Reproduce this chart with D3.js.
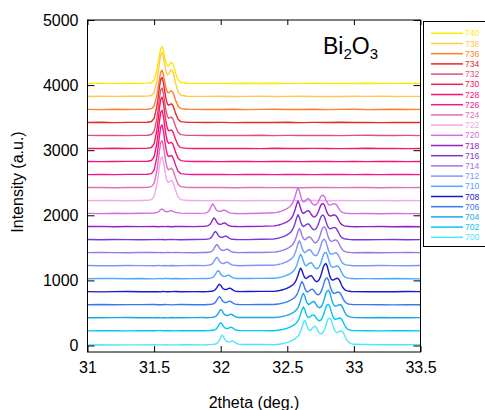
<!DOCTYPE html>
<html><head><meta charset="utf-8">
<script src="https://cdn.jsdelivr.net/npm/d3@7"></script>
<style>body{margin:0;background:#fff}svg{display:block;font-family:"Liberation Sans",Arial,sans-serif}</style>
</head><body><svg id="c" width="485" height="410"></svg>
<script>
// ---- data ----
const temps = [740,738,736,734,732,730,728,726,724,722,720,718,716,714,712,710,708,706,704,702,700];
const offsets = [4000,3800,3600,3400,3200,3000,2800,2600,2400,2200,2000,1800,1600,1400,1200,1000,800,600,400,200,0];
const colors = ["#ffe800","#ffc94f","#ff7f2a","#e8282a","#e0507a","#f0205a","#ff1070","#f01890","#e070b8","#f0a8e8","#d070e0","#9020c8","#7838d8","#9878e8","#7898ff","#50a8ff","#1818d0","#3878f0","#18a8e8","#00c8f0","#50e8f8"];
const xTicks = [31,31.5,32,32.5,33,33.5];
const yTicks = [0,1000,2000,3000,4000,5000];

// 2theta sampling grid for Bi2O3-phase scans (722-740)
const xA = [31.00,31.10,31.20,31.30,31.40,31.45,31.48,31.50,31.52,31.53,31.54,31.55,31.56,31.57,31.58,31.59,31.60,31.61,31.62,31.63,31.64,31.65,31.66,31.68,31.70,31.75,31.80,31.90,32.00,32.10,32.20,32.30,32.40,32.50,32.60,32.70,32.80,32.90,33.00,33.10,33.20,33.30,33.40,33.50];
// 2theta sampling grid for the other scans (700-720)
const xB = [31.00,31.10,31.20,31.30,31.40,31.50,31.53,31.55,31.56,31.58,31.60,31.63,31.66,31.70,31.80,
31.88,31.89,31.90,31.91,31.92,31.93,31.94,31.95,31.96,31.97,31.98,31.99,32.00,32.01,32.02,32.03,32.04,32.05,32.06,32.07,32.08,32.09,32.10,32.11,32.12,32.13,32.14,
32.20,32.30,
32.40,32.41,32.42,32.43,32.44,32.45,32.46,32.47,32.48,32.49,32.50,32.51,32.52,32.53,32.54,32.55,32.56,32.57,32.58,32.59,32.60,32.61,32.62,32.63,32.64,32.65,32.66,32.67,32.68,32.69,32.70,32.71,32.72,32.73,32.74,32.75,32.76,32.77,32.78,32.79,32.80,32.81,32.82,32.83,32.84,32.85,32.86,32.87,32.88,32.89,32.90,32.91,32.92,32.93,32.94,32.95,32.96,32.97,32.98,32.99,33.00,
33.10,33.20,33.30,33.40,33.50];

const i740 = [25,30,22,28,27,30,37,77,217,334,463,566,590,526,424,338,295,301,331,349,326,266,194,83,40,28,27,26,27,24,29,25,28,23,26,30,24,27,25,29,24,26,28,25];
const i738 = [24,28,26,30,28,30,40,87,253,392,545,668,697,622,503,403,358,371,412,436,408,332,240,98,44,29,27,26,28,25,27,30,24,26,29,25,27,24,28,26,30,25,27,26];
const i736 = [27,23,28,25,27,30,38,80,230,356,493,604,628,558,445,345,289,282,302,315,293,240,176,77,39,28,27,26,25,28,24,27,30,25,26,28,23,27,29,24,26,28,25,27];
const i734 = [26,29,24,27,28,30,40,88,261,405,563,690,717,635,502,381,308,290,303,313,290,237,173,76,39,28,27,26,27,24,28,26,25,29,24,27,26,30,25,27,24,28,26,25];
const i732 = [28,25,27,24,28,30,41,92,274,427,594,728,757,669,527,397,316,291,301,309,286,234,171,76,39,28,27,26,26,28,25,29,24,27,26,25,28,24,27,29,25,26,27,24];
const i730 = [25,27,29,26,28,31,42,97,295,460,641,785,816,721,565,422,330,298,304,310,287,234,172,76,39,28,27,26,28,25,27,24,29,26,25,28,27,24,26,29,25,27,24,26];
const i728 = [27,24,26,28,28,31,42,97,295,460,641,785,812,721,566,424,334,307,313,320,296,242,177,78,40,28,27,26,25,28,26,24,27,29,25,26,28,25,27,24,28,26,25,27];
const i726 = [24,27,25,29,28,31,41,95,285,443,617,757,787,696,548,412,327,302,311,319,296,241,177,78,40,28,27,26,27,25,28,26,24,28,27,25,29,26,24,27,25,28,26,24];
const i724 = [26,28,24,27,28,31,41,91,271,421,586,718,748,662,523,397,320,300,313,323,300,245,179,78,40,28,27,26,26,24,27,29,25,28,24,26,27,25,29,26,24,27,25,28];
const i722 = [25,27,28,24,28,30,40,87,254,394,548,671,698,620,493,380,315,304,324,337,313,256,187,81,40,28,27,26,28,26,24,27,25,29,26,27,24,28,25,26,29,24,27,26];

const i720 = [30,26,32,28,31,35,48,88,98,62,55,72,45,33,29,
33,38,46,62,95,140,175,150,104,76,64,60,62,70,78,80,72,56,43,37,33,30,29,28,27,26,26,
28,31,
38,41,45,50,55,61,68,76,85,95,106,120,136,157,189,236,300,372,420,380,300,235,208,212,235,252,255,235,200,172,160,158,168,195,240,285,305,307,285,235,190,165,158,163,172,178,176,160,128,92,65,48,40,35,32,30,28,27,26,25,25,
27,24,28,26,25];
const i718 = [27,30,25,29,26,28,25,27,30,26,28,24,27,29,26,
31,34,38,46,62,94,134,160,140,98,72,62,61,67,79,82,71,54,42,36,32,30,28,28,27,26,26,
29,30,
38,40,45,48,54,59,67,73,83,91,103,116,132,154,186,234,296,368,420,380,302,250,228,238,258,268,270,248,212,188,174,180,200,240,292,350,376,380,352,290,236,202,190,193,200,205,202,184,148,108,76,56,44,38,34,31,29,28,26,26,25,
26,28,25,27,24];
const i716 = [28,25,29,27,24,27,29,26,28,25,27,30,26,24,28,
30,31,34,37,46,61,92,130,150,134,95,72,62,61,67,78,80,70,53,42,36,31,30,28,28,27,26,
27,31,
36,41,43,49,52,60,65,74,81,92,101,116,129,152,182,228,290,360,410,372,300,248,228,236,255,266,268,248,214,190,178,184,206,248,305,368,398,402,372,304,245,208,194,198,206,212,210,192,154,112,78,57,45,38,35,31,30,27,27,25,25,
25,27,29,24,26];
const i714 = [26,29,27,24,28,30,26,28,25,27,29,26,28,27,25,
29,28,32,33,38,44,60,88,126,150,134,95,71,62,61,65,76,79,70,54,41,36,31,30,29,27,27,
30,29,
35,36,41,43,49,52,60,65,74,81,92,101,116,129,151,179,224,282,352,398,362,293,244,224,234,254,266,268,248,214,189,177,184,208,252,316,384,416,422,388,314,252,213,199,204,214,220,218,198,158,114,80,58,45,38,35,32,30,27,27,25,
28,25,26,29,27];
const i712 = [29,26,24,28,27,25,29,27,24,28,26,29,25,27,30,
27,30,31,34,36,46,61,92,130,154,136,96,72,61,60,67,78,80,69,53,42,35,32,30,28,28,26,
28,32,
33,38,40,45,47,54,58,67,72,83,90,103,114,131,150,182,228,290,362,410,372,300,248,228,238,256,268,272,250,216,191,179,186,212,258,324,392,426,432,396,320,256,216,201,206,216,224,221,200,160,116,80,57,45,39,34,32,30,28,26,26,
26,29,27,25,28];
const i710 = [25,28,30,26,29,24,27,29,26,28,30,25,28,26,27,
28,27,30,31,34,37,46,60,91,129,150,134,95,72,62,61,67,77,79,70,53,42,36,31,30,28,28,
30,31,
33,33,38,40,45,47,54,58,67,72,83,90,103,114,131,151,182,228,288,358,402,366,296,246,226,236,256,268,270,250,216,190,179,186,211,256,322,390,424,430,394,318,254,214,200,204,214,220,218,198,158,114,80,57,44,38,35,31,29,28,26,
27,25,28,26,24];
const i708 = [28,24,27,29,25,28,26,24,29,27,25,28,30,26,28,
26,28,27,30,31,34,36,44,58,85,120,140,126,92,70,61,60,66,78,80,70,54,43,36,31,30,28,
29,32,
31,35,36,41,43,49,52,60,65,74,81,92,101,116,129,148,176,220,278,345,388,356,290,244,228,240,258,270,272,252,218,192,180,188,214,262,330,402,445,460,420,335,262,218,204,210,222,232,230,208,165,118,82,59,46,39,35,33,30,28,27,
25,28,26,29,27];
const i706 = [26,29,25,28,27,30,25,28,26,29,27,24,28,29,26,
27,26,29,29,32,33,38,45,62,92,130,150,134,95,71,61,60,67,78,80,69,53,42,35,32,30,28,
28,30,
29,33,34,38,40,45,47,54,58,67,72,83,90,103,114,128,148,176,218,275,342,382,350,285,240,222,232,250,262,264,245,212,188,178,186,212,258,322,392,432,438,400,322,256,215,200,204,214,220,217,196,156,112,78,57,44,38,34,31,29,28,
28,26,24,27,25];
const i704 = [27,25,28,30,26,27,29,25,28,26,24,29,27,25,28,
29,26,27,29,28,32,33,38,44,61,88,126,154,137,98,73,62,61,65,76,81,71,55,41,36,31,30,
31,29,
30,31,33,35,38,40,45,48,54,58,67,72,83,90,103,114,132,150,182,228,290,360,402,368,298,248,228,238,258,272,275,252,218,192,180,188,215,262,330,402,440,448,408,328,260,218,203,208,218,228,226,205,162,116,80,58,45,40,35,32,30,
26,29,27,25,28];
const i702 = [25,28,26,24,29,26,28,30,25,27,29,26,24,28,27,
27,25,28,28,30,31,34,37,46,60,92,130,150,133,95,72,61,60,67,78,80,69,53,42,35,32,29,
29,28,
26,30,31,35,37,41,43,49,53,60,65,74,81,92,101,116,131,148,178,222,282,350,392,360,292,246,228,238,257,266,268,246,214,190,180,188,214,260,325,392,428,432,396,322,256,216,202,206,214,222,218,198,158,114,80,57,44,38,34,31,29,
27,25,29,26,24];
const i700 = [8,12,7,10,9,11,8,10,9,12,8,10,9,11,12,
10,12,11,13,14,15,17,19,23,32,48,80,125,160,140,98,70,58,55,58,66,68,58,43,30,24,20,
15,17,
12,14,16,18,20,23,27,31,36,42,48,55,63,72,82,93,106,122,142,172,215,275,345,385,352,288,242,228,245,270,290,295,270,225,192,178,185,208,250,312,380,415,420,388,318,255,215,200,205,215,222,218,198,158,110,75,52,38,28,22,18,
15,12,14,11,13];

const intensities = [i740,i738,i736,i734,i732,i730,i728,i726,i724,i722,i720,i718,i716,i714,i712,i710,i708,i706,i704,i702,i700];
const grids = temps.map(t => t >= 722 ? xA : xB);

// ---- chart ----
const svg = d3.select("#c");
const L = 87.5, R = 420.5, T = 20, B = 352;
const x = d3.scaleLinear().domain([31, 33.5]).range([L, R]);
const y = d3.scaleLinear().domain([-100, 5000]).range([B, T]);

svg.append("defs").append("clipPath").attr("id","clip")
  .append("rect").attr("x",L).attr("y",T).attr("width",R-L).attr("height",B-T);

const line = d3.line().defined(d => d[0] != null && d[1] != null && !isNaN(d[1]))
  .x(d => x(d[0])).y(d => y(d[1]));

const plot = svg.append("g").attr("clip-path","url(#clip)");
temps.forEach((t, s) => {
  const g = grids[s], v = intensities[s];
  const pts = g.map((xx, i) => [xx, v[i] == null ? null : v[i] + offsets[s]]);
  plot.append("path").datum(pts).attr("d", line)
    .attr("fill","none").attr("stroke", colors[s]).attr("stroke-width",1.4)
    .attr("stroke-linejoin","round");
});

// axes
const ax = svg.append("g").attr("transform",`translate(0,${B})`)
  .call(d3.axisBottom(x).tickValues(xTicks).tickSize(-6).tickPadding(9.5).tickFormat(d => String(d)));
const ay = svg.append("g").attr("transform",`translate(${L},0)`)
  .call(d3.axisLeft(y).tickValues(yTicks).tickSize(-7).tickPadding(9).tickFormat(d3.format("d")));
const at = svg.append("g").attr("transform",`translate(0,${T})`)
  .call(d3.axisTop(x).tickValues(xTicks).tickSize(-5).tickFormat(""));
const ar = svg.append("g").attr("transform",`translate(${R},0)`)
  .call(d3.axisRight(y).tickValues(yTicks).tickSize(-7).tickFormat(""));
[ax,ay,at,ar].forEach(a => {
  a.select(".domain").remove();
  a.selectAll("text").attr("font-size",16).attr("fill","#000")
    .attr("font-family",'"Liberation Sans",Arial,sans-serif');
  a.selectAll("line").attr("stroke","#000");
});
svg.append("rect").attr("x",L).attr("y",T).attr("width",R-L).attr("height",B-T)
  .attr("fill","none").attr("stroke","#000").attr("stroke-width",1);

// titles
svg.append("text").attr("x",254).attr("y",402).attr("dy","0.35em")
  .attr("text-anchor","middle").attr("font-size",16).text("2theta (deg.)");
svg.append("text").attr("transform","translate(17,182) rotate(-90)").attr("dy","0.35em")
  .attr("text-anchor","middle").attr("font-size",16).text("Intensity (a.u.)");

// Bi2O3 label
const lab = svg.append("text").attr("x",323).attr("y",54).attr("font-size",23);
lab.append("tspan").text("Bi");
lab.append("tspan").attr("font-size",15).attr("dy",5).text("2");
lab.append("tspan").attr("dy",-5).text("O");
lab.append("tspan").attr("font-size",15).attr("dy",5).text("3");

// legend
const lg = svg.append("g");
lg.append("rect").attr("x",423.5).attr("y",21.5).attr("width",70).attr("height",225)
  .attr("fill","#fff").attr("stroke","#000").attr("stroke-width",1);
temps.forEach((t, s) => {
  const yy = 33.3 + s * 10.2;
  lg.append("line").attr("x1",431).attr("x2",463).attr("y1",yy).attr("y2",yy)
    .attr("stroke",colors[s]).attr("stroke-width",1.5);
  lg.append("text").attr("x",465).attr("y",yy+3).attr("font-size",8.5)
    .attr("fill",colors[s]).text(t);
});
</script>
</body></html>
